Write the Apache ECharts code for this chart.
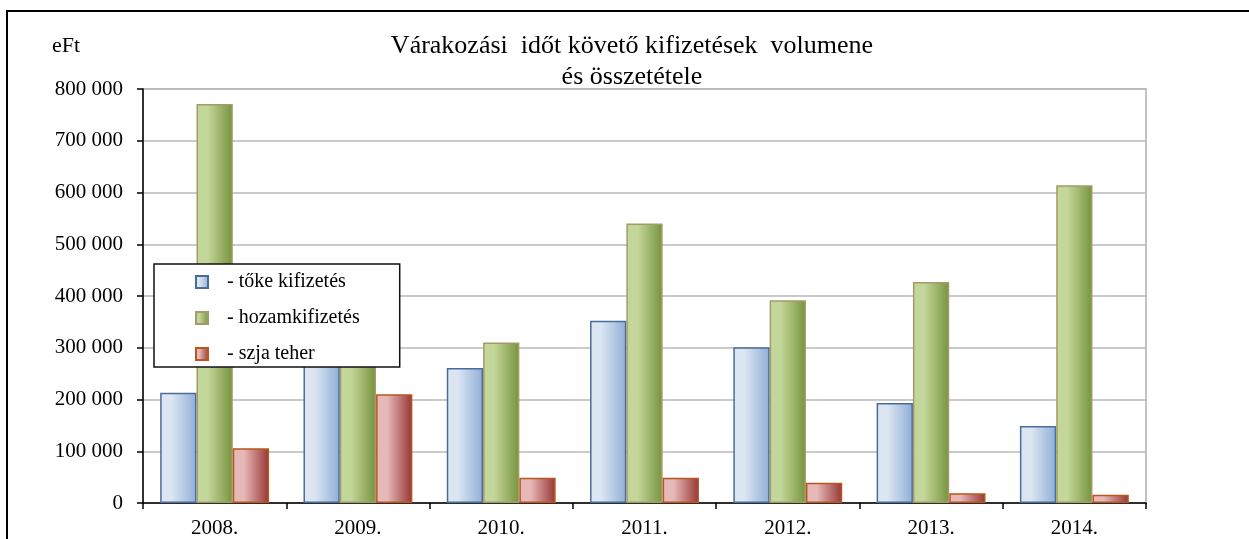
<!DOCTYPE html>
<html><head><meta charset="utf-8">
<script src="https://cdn.jsdelivr.net/npm/echarts@6/dist/echarts.min.js"></script>
<style>html,body{margin:0;padding:0;background:#fff}#c{width:1249px;height:539px}</style>
</head><body><div id="c"></div>
<script>
const categories = ['2008.', '2009.', '2010.', '2011.', '2012.', '2013.', '2014.'];
const seriesNames = ['- tőke kifizetés', '- hozamkifizetés', '- szja teher'];
const toke = [213000, 285000, 261000, 352000, 301000, 193000, 149000];
const hozam = [771000, 330000, 310000, 540000, 392000, 427000, 614000];
const szja = [106000, 210000, 49000, 49000, 39000, 19000, 16000];
const yTicks = { min: 0, max: 800000, interval: 100000 };
const titleText = 'Várakozási  időt követő kifizetések  volumene\nés összetétele';
const unitText = 'eFt';

const serif = '"Liberation Serif", "DejaVu Serif", serif';
function grad(light, dark) {
  return new echarts.graphic.LinearGradient(0, 0, 1, 0, [
    { offset: 0, color: light }, { offset: 0.3, color: light }, { offset: 1, color: dark }
  ]);
}
const styles = [
  { color: grad('#dce6f2', '#8eaed6'), borderColor: '#4a6c9b', borderWidth: 1.5 },
  { color: grad('#c4d79b', '#76933c'), borderColor: '#a49a6a', borderWidth: 1.5 },
  { color: grad('#e6b9b8', '#963634'), borderColor: '#b8561c', borderWidth: 1.5 }
];
const data = [toke, hozam, szja];
const fmt = v => String(v).replace(/\B(?=(\d{3})+(?!\d))/g, ' ');

const chart = echarts.init(document.getElementById('c'), null, { renderer: 'canvas' });
chart.setOption({
  animation: false,
  backgroundColor: '#fff',
  title: {
    text: titleText, left: 627, textAlign: 'center', top: 26,
    textStyle: { fontFamily: serif, fontSize: 26, fontWeight: 'normal', color: '#000', lineHeight: 31 }
  },
  graphic: [
    { type: 'rect', shape: { x: 7, y: 11, width: 1300, height: 700 }, style: { fill: 'none', stroke: '#000', lineWidth: 2 }, silent: true },
    { type: 'text', left: 52, top: 35, style: { text: unitText, font: '22px ' + serif, fill: '#000' } }
  ],
  legend: {
    orient: 'vertical', left: 154, top: 264,
    padding: [8, 40, 3, 41], itemGap: 16, itemWidth: 12, itemHeight: 12,
    backgroundColor: '#fff', borderColor: '#111', borderWidth: 1.5,
    icon: 'rect',
    textStyle: { fontFamily: serif, fontSize: 20, color: '#000', padding: [0, 0, 0, 14] },
    data: seriesNames
  },
  grid: { left: 143, right: 103, top: 89, bottom: 36, outerBoundsMode: 'none', containLabel: false, show: true, borderColor: '#b0b0b0', borderWidth: 1.5, backgroundColor: 'transparent' },
  xAxis: {
    type: 'category', data: categories,
    axisLine: { lineStyle: { color: '#000', width: 1.5 } },
    axisTick: { show: true, length: 6, lineStyle: { color: '#000', width: 1.5 } },
    axisLabel: { fontFamily: serif, fontSize: 21, color: '#000', margin: 15 }
  },
  yAxis: {
    type: 'value', min: yTicks.min, max: yTicks.max, interval: yTicks.interval,
    axisLine: { show: true, lineStyle: { color: '#000', width: 1.5 } },
    axisTick: { show: true, length: 6, lineStyle: { color: '#000', width: 1.5 } },
    splitLine: { lineStyle: { color: '#b8b8b8', width: 1.5 } },
    axisLabel: { fontFamily: serif, fontSize: 21, color: '#000', margin: 20, formatter: fmt }
  },
  series: seriesNames.map((n, i) => ({
    name: n, type: 'bar', data: data[i], barGap: '0%', barCategoryGap: '24%',
    itemStyle: styles[i]
  }))
});
</script></body></html>
